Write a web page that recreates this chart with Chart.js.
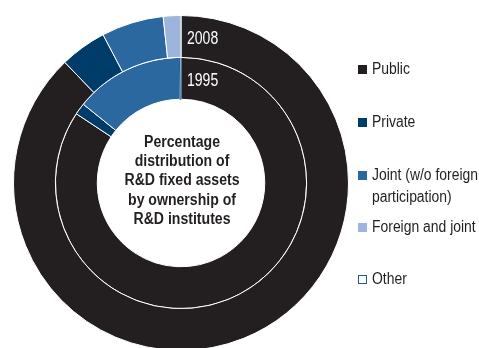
<!DOCTYPE html>
<html>
<head>
<meta charset="utf-8">
<script src="https://cdn.jsdelivr.net/npm/chart.js@4"></script>
<style>
  html, body { margin: 0; padding: 0; background: #fff; overflow: hidden; }
  #wrap { position: relative; width: 479px; height: 348px; overflow: hidden; }
  #assetsChart { position: absolute; left: 0; top: 0; }
  #legend { position: absolute; left: 358px; top: 0; font-family: "Liberation Sans", Arial, sans-serif; font-size: 16px; color: #231f20; }
  .item { position: absolute; left: 0; white-space: nowrap; line-height: 22px; }
  .box { position: absolute; left: 0; width: 9px; height: 9px; box-sizing: border-box; }
  .txt { position: absolute; left: 14px; top: 0; transform: scaleX(0.87); transform-origin: 0 0; }
</style>
</head>
<body>
<div id="wrap">
  <canvas id="assetsChart" width="479" height="360"></canvas>
  <div id="legend"></div>
</div>
<script>
const CATEGORIES = ["Public", "Private", "Joint (w/o foreign\nparticipation)", "Foreign and joint", "Other"];
const YEARS = ["2008", "1995"];
const SHARE_2008 = [87.8, 4.5, 6.0, 1.7, 0.0];
const SHARE_1995 = [84.3, 1.5, 14.0, 0.0, 0.2];
const COLORS = ["#231f20", "#003c69", "#2c68a0", "#9db5dd", "#ffffff"];
const EDGES = ["#ffffff", "#ffffff", "#ffffff", "#ffffff", "#1f5a94"];
const CENTER_TEXT = ["Percentage", "distribution of", "R&D fixed assets", "by ownership of", "R&D institutes"];

const FONT = '"Liberation Sans", Arial, sans-serif';

// narrow text: squeeze horizontally around (x, y)
function narrowText(ctx, text, x, y, sx) {
    ctx.save();
    ctx.translate(x, y);
    ctx.scale(sx, 1);
    ctx.fillText(text, 0, 0);
    ctx.restore();
}

// year labels next to the top of each ring, plus the caption in the hole
const ringText = {
    id: "ringText",
    afterDraw(chart) {
        const ctx = chart.ctx;
        ctx.save();
        chart.data.datasets.forEach((ds, i) => {
            const arc = chart.getDatasetMeta(i).data[0];
            const mid = (arc.innerRadius + arc.outerRadius) / 2;
            ctx.fillStyle = "#ffffff";
            ctx.font = "18px " + FONT;
            ctx.textAlign = "left";
            ctx.textBaseline = "middle";
            narrowText(ctx, ds.label, arc.x + 6, arc.y - mid + 3, 0.78);
        });
        const arc = chart.getDatasetMeta(0).data[0];
        ctx.fillStyle = "#231f20";
        ctx.font = "bold 16px " + FONT;
        ctx.textAlign = "center";
        ctx.textBaseline = "middle";
        const lh = 19.3;
        const y0 = arc.y - 2 * lh - 2;
        CENTER_TEXT.forEach((line, k) => narrowText(ctx, line, arc.x + 1, y0 + k * lh, 0.88));
        ctx.restore();
    }
};

new Chart(document.getElementById("assetsChart"), {
    type: "doughnut",
    data: {
        labels: CATEGORIES,
        datasets: [
            { label: YEARS[0], data: SHARE_2008, backgroundColor: COLORS, borderColor: EDGES, borderWidth: 1 },
            { label: YEARS[1], data: SHARE_1995, backgroundColor: COLORS, borderColor: EDGES, borderWidth: 1 }
        ]
    },
    options: {
        responsive: false,
        animation: false,
        cutout: "50%",
        layout: { padding: { left: 13, top: 15, right: 130, bottom: 9 } },
        plugins: {
            legend: { display: false },
            tooltip: { enabled: false }
        }
    },
    plugins: [ringText]
});

// legend on the right
const legend = document.getElementById("legend");
const rows = [58, 111, 164, 216, 268];
CATEGORIES.forEach((name, i) => {
    const item = document.createElement("div");
    item.className = "item";
    item.style.top = rows[i] + "px";
    const box = document.createElement("div");
    box.className = "box";
    box.style.top = "7px";
    box.style.background = COLORS[i];
    box.style.border = i === 4 ? "1.5px solid " + EDGES[4] : "none";
    const txt = document.createElement("div");
    txt.className = "txt";
    txt.innerHTML = name.replace("\n", "<br>");
    item.appendChild(box);
    item.appendChild(txt);
    legend.appendChild(item);
});
</script>
</body>
</html>
